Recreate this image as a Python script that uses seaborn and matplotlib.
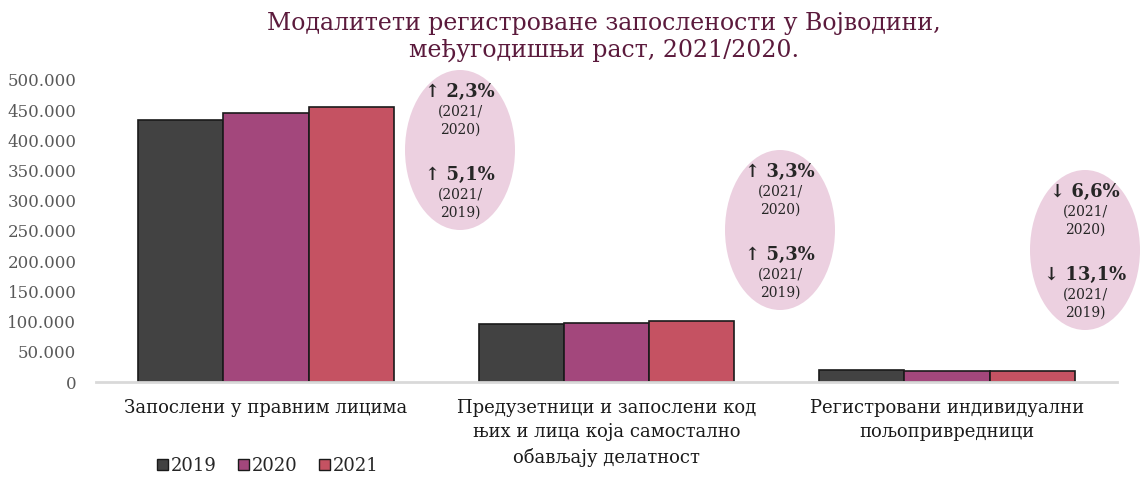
import numpy as np
import pandas as pd
import matplotlib
matplotlib.use("Agg")
import matplotlib.pyplot as plt
from matplotlib.patches import Ellipse
from matplotlib.ticker import FuncFormatter
import seaborn as sns

categories = ["Запослени у правним лицима",
              "Предузетници и запослени код\nњих и лица која самостално\nобављају делатност",
              "Регистровани индивидуални\nпољопривредници"]
years = ["2019", "2020", "2021"]
v2019 = [434000, 95400, 20100]
v2020 = [445800, 97300, 18700]
v2021 = [456000, 100500, 17500]
growth_2020 = ["↑ 2,3%", "↑ 3,3%", "↓ 6,6%"]
growth_2019 = ["↑ 5,1%", "↑ 5,3%", "↓ 13,1%"]

sns.set_theme(style="white")
plt.rcParams["font.family"] = ["DejaVu Serif"]

df = pd.DataFrame({
    "cat": categories * 3,
    "year": [y for y in years for _ in categories],
    "value": v2019 + v2020 + v2021,
})

colors = {"2019": "#424242", "2020": "#a3477c", "2021": "#c55262"}

fig = plt.figure(figsize=(11.4, 4.79), dpi=100)
ax = fig.add_axes([0.084, 0.2025, 0.896, 0.6305])

sns.barplot(data=df, x="cat", y="value", hue="year", palette=colors,
            saturation=1, width=0.75, gap=0, edgecolor="#1a1a1a", linewidth=1.2,
            legend=False, ax=ax)

ax.set_ylim(0, 500000)
ax.set_xlim(-0.5, 2.5)
ax.set_yticks(np.arange(0, 500001, 50000))
ax.yaxis.set_major_formatter(FuncFormatter(lambda v, p: f"{int(v):,}".replace(",", ".")))
ax.tick_params(axis="y", labelsize=12, labelcolor="#595959", length=0, pad=14)
ax.tick_params(axis="x", labelsize=13, labelcolor="#1a1a1a", length=0, pad=12)
for lbl in ax.get_xticklabels():
    lbl.set_linespacing(1.45)
ax.set_xlabel("")
ax.set_ylabel("")
for s in ["top", "right", "left"]:
    ax.spines[s].set_visible(False)
ax.spines["bottom"].set_color("#d9d9d9")
ax.spines["bottom"].set_linewidth(2)

# growth ellipses (positions in figure pixels)
ell_pos = [(460, 150), (780, 230), (1085, 250)]
for (px, py), g1, g2 in zip(ell_pos, growth_2020, growth_2019):
    cx, cy = px / 1140, 1 - py / 479
    e = Ellipse((cx, cy), 110 / 1140, 160 / 479, transform=fig.transFigure,
                facecolor="#ecd0e0", edgecolor="none", zorder=0)
    fig.patches.append(e)
    fig.text(cx, 1 - (py - 58) / 479, g1, ha="center", va="center",
             fontsize=13, fontweight="bold")
    fig.text(cx, 1 - (py - 29) / 479, "(2021/\n2020)", ha="center", va="center",
             fontsize=10, linespacing=1.35)
    fig.text(cx, 1 - (py + 25) / 479, g2, ha="center", va="center",
             fontsize=13, fontweight="bold")
    fig.text(cx, 1 - (py + 54) / 479, "(2021/\n2019)", ha="center", va="center",
             fontsize=10, linespacing=1.35)

fig.suptitle("Модалитети регистроване запослености у Војводини,\nмеђугодишњи раст, 2021/2020.",
             x=0.53, y=0.975, fontsize=17, color="#5b1a3c", linespacing=1.2)

handles = [plt.Rectangle((0, 0), 1, 1, facecolor=colors[y], edgecolor="#1a1a1a") for y in years]
fig.legend(handles, years, loc="lower center", bbox_to_anchor=(0.235, -0.025), ncol=3,
           frameon=False, fontsize=13, handlelength=0.6, handleheight=0.6,
           handletextpad=0.15, columnspacing=1.2)

plt.savefig("out.png", dpi=100)
plt.close()
